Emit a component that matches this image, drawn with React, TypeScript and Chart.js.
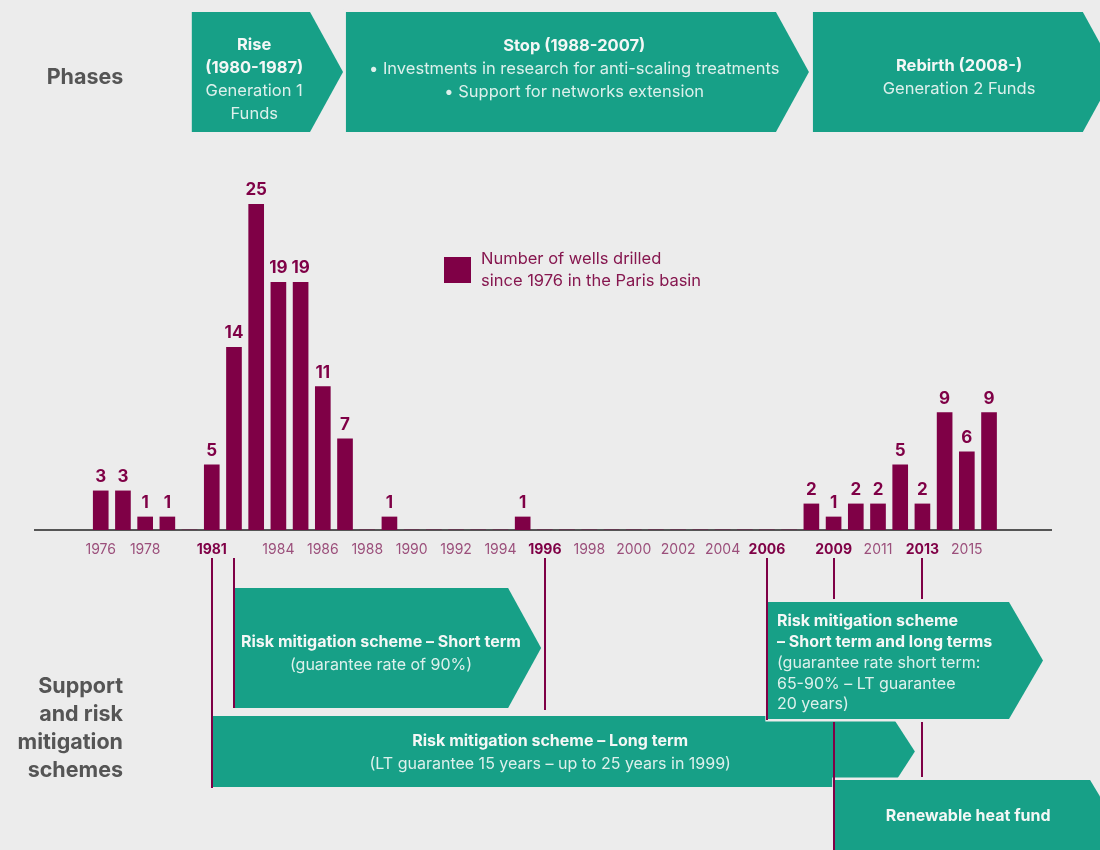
import React, { useEffect, useRef } from 'react';
import { Chart, registerables } from 'chart.js';
Chart.register(...registerables);

// ---- data ----
const years = [
  1976, 1977, 1978, 1979, 1980, 1981, 1982, 1983, 1984, 1985, 1986, 1987,
  1988, 1989, 1990, 1991, 1992, 1993, 1994, 1995, 1996, 1997, 1998, 1999,
  2000, 2001, 2002, 2003, 2004, 2005, 2006, 2007,
  2008, 2009, 2010, 2011, 2012, 2013, 2014, 2015, 2016,
];
const wells = [
  3, 3, 1, 1, 0, 5, 14, 25, 19, 19, 11, 7,
  0, 1, 0, 0, 0, 0, 0, 1, 0, 0, 0, 0,
  0, 0, 0, 0, 0, 0, 0, 0,
  2, 1, 2, 2, 5, 2, 9, 6, 9,
];
const tickYears = [1976, 1978, 1981, 1984, 1986, 1988, 1990, 1992, 1994, 1996, 1998, 2000, 2002, 2004, 2006, 2009, 2011, 2013, 2015];
const boldYears = [1981, 1996, 2006, 2009, 2013];
const seriesLabel = ['Number of wells drilled', 'since 1976 in the Paris basin'];

// phases (top arrows)
const phaseStart = [1980.1, 1987.04, 2008.07];
const phaseTip = [1986.91, 2007.89, 2021.71];
const phaseTextAt = [1982.91, 1997.32, 2014.65];
const phaseLines: [string, boolean][][] = [
  [['Rise', true], ['(1980-1987)', true], ['Generation 1', false], ['Funds', false]],
  [['Stop (1988-2007)', true], ['• Investments in research for anti-scaling treatments', false], ['• Support for networks extension', false]],
  [['Rebirth (2008-)', true], ['Generation 2 Funds', false]],
];

// support schemes (bottom arrows)
const schemeStart = [1981, 1982, 2006.04, 2009.05];
const schemeTip = [2012.66, 1995.83, 2018.43, 2021.9];
const schemeTextAt = [1996.24, 1988.62, 2006.45, 2015.06];
const schemeLines: [string, boolean][][] = [
  [['Risk mitigation scheme – Long term', true], ['(LT guarantee 15 years – up to 25 years in 1999)', false]],
  [['Risk mitigation scheme – Short term', true], ['(guarantee rate of 90%)', false]],
  [['Risk mitigation scheme', true], ['– Short term and long terms', true], ['(guarantee rate short term:', false], ['65-90% – LT guarantee', false], ['20 years)', false]],
  [['Renewable heat fund', true]],
];
const markerYears = [1981, 1982, 1996, 2006, 2009, 2013];
const sideLabel = ['Support', 'and risk', 'mitigation', 'schemes'];

// ---- styles / layout ----
const BG = '#ececec';
const TEAL = '#17a087';
const PURPLE = '#7f0046';
const TICK_PURPLE = '#9b4f7b';
const GREY = '#555555';
const FONT = 'Inter, "Noto Sans", sans-serif';

const phaseBox = { top: 12, bottom: 132, depth: 33, lineH: 23 };
const phaseTextY = [79.5, 69, 78];
const schemeBox = [
  { top: 716, bottom: 787, depth: 23 },
  { top: 588, bottom: 708, depth: 33 },
  { top: 602, bottom: 719, depth: 34 },
  { top: 780, bottom: 880, depth: 30 },
];
const schemeTextY = [753, 654, 663, 816];
const schemeLineH = [23, 23, 20.7, 23];
const schemeAlign: CanvasTextAlign[] = ['center', 'center', 'left', 'center'];
const markerSegs: [number, number][][] = [
  [[558, 788]],
  [[558, 708]],
  [[558, 710]],
  [[558, 720]],
  [[558, 599], [722, 850]],
  [[558, 599], [722, 777]],
];

function arrow(ctx: CanvasRenderingContext2D, x0: number, tip: number, top: number, bottom: number, depth: number) {
  ctx.beginPath();
  ctx.moveTo(x0, top);
  ctx.lineTo(tip - depth, top);
  ctx.lineTo(tip, (top + bottom) / 2);
  ctx.lineTo(tip - depth, bottom);
  ctx.lineTo(x0, bottom);
  ctx.closePath();
}

function drawBox(ctx: CanvasRenderingContext2D, x0: number, tip: number, top: number, bottom: number, depth: number) {
  arrow(ctx, x0, tip, top, bottom, depth);
  ctx.lineWidth = 5;
  ctx.strokeStyle = BG;
  ctx.lineJoin = 'miter';
  ctx.stroke();
  ctx.fillStyle = TEAL;
  ctx.fill();
}

function drawLines(ctx: CanvasRenderingContext2D, lines: [string, boolean][], x: number, yCenter: number, lineH: number, align: CanvasTextAlign, size: number) {
  const n = lines.length;
  const y0 = yCenter - ((n - 1) * lineH) / 2;
  ctx.textAlign = align;
  ctx.textBaseline = 'middle';
  lines.forEach(([t, b], i) => {
    ctx.font = `${b ? 'bold ' : ''}${size}px ${FONT}`;
    ctx.fillStyle = b ? '#f4f7f6' : '#ddf0ec';
    ctx.fillText(t, x, y0 + i * lineH);
  });
}

const decor = {
  id: 'decor',
  beforeDraw(chart: any) {
    const ctx = chart.ctx;
    ctx.save();
    ctx.fillStyle = BG;
    ctx.fillRect(0, 0, chart.width, chart.height);
    ctx.restore();
  },
  afterDraw(chart: any) {
    const ctx: CanvasRenderingContext2D = chart.ctx;
    const sx = (v: number) => chart.scales.x.getPixelForValue(v);
    ctx.save();

    // bar value labels
    const meta = chart.getDatasetMeta(0);
    ctx.font = `bold 17px ${FONT}`;
    ctx.fillStyle = PURPLE;
    ctx.textAlign = 'center';
    ctx.textBaseline = 'alphabetic';
    meta.data.forEach((el: any, i: number) => {
      if (!wells[i]) return;
      ctx.fillText(String(wells[i]), el.x, el.y - 9);
    });

    // legend
    ctx.fillStyle = PURPLE;
    ctx.fillRect(444, 257, 27, 26);
    ctx.font = `16.5px ${FONT}`;
    ctx.fillStyle = '#86174f';
    ctx.textAlign = 'left';
    ctx.textBaseline = 'middle';
    ctx.fillText(seriesLabel[0], 481, 259);
    ctx.fillText(seriesLabel[1], 481, 281);

    // side labels
    ctx.fillStyle = GREY;
    ctx.font = `bold 21.5px ${FONT}`;
    ctx.textAlign = 'center';
    ctx.fillText('Phases', 85, 78);
    ctx.textAlign = 'right';
    sideLabel.forEach((t, i) => ctx.fillText(t, 123, 687 + i * 28));

    // phases
    phaseStart.forEach((s, i) => {
      drawBox(ctx, sx(s), sx(phaseTip[i]), phaseBox.top, phaseBox.bottom, phaseBox.depth);
      drawLines(ctx, phaseLines[i], sx(phaseTextAt[i]), phaseTextY[i], phaseBox.lineH, 'center', 16.5);
    });

    // schemes: long term, short term, then 2006 box and renewable fund
    [0, 1, 2, 3].forEach((i) => {
      const b = schemeBox[i];
      drawBox(ctx, sx(schemeStart[i]), sx(schemeTip[i]), b.top, b.bottom, b.depth);
      if (i === 1 || i === 3) {
        if (i === 1) {
          drawLines(ctx, schemeLines[0], sx(schemeTextAt[0]), schemeTextY[0], schemeLineH[0], schemeAlign[0], 16);
        }
      }
      if (i !== 0) drawLines(ctx, schemeLines[i], sx(schemeTextAt[i]), schemeTextY[i], schemeLineH[i], schemeAlign[i], 16);
    });

    // year markers
    ctx.strokeStyle = PURPLE;
    ctx.lineWidth = 2;
    markerYears.forEach((y, i) => {
      const x = Math.round(sx(y));
      markerSegs[i].forEach(([a, b]) => {
        ctx.beginPath();
        ctx.moveTo(x, a);
        ctx.lineTo(x, b);
        ctx.stroke();
      });
    });

    ctx.restore();
  },
};

export default function App() {
  const ref = useRef<HTMLCanvasElement | null>(null);
  useEffect(() => {
    document.body.style.margin = '0';
    document.body.style.background = BG;
    const canvas = ref.current;
    if (!canvas) return;
    const chart = new Chart(canvas, {
      type: 'bar',
      data: {
        datasets: [
          {
            label: seriesLabel.join(' '),
            data: years.map((y, i) => ({ x: y, y: wells[i] })),
            backgroundColor: PURPLE,
            barThickness: 15,
          },
        ],
      },
      options: {
        animation: false,
        responsive: false,
        maintainAspectRatio: false,
        devicePixelRatio: 1,
        layout: { padding: { top: 204, bottom: 290, left: 35, right: 49 } },
        plugins: { legend: { display: false }, tooltip: { enabled: false }, title: { display: false } },
        scales: {
          x: {
            type: 'linear',
            min: 1973.04,
            max: 2018.79,
            offset: false,
            grid: { display: false, drawTicks: false },
            border: { display: true, color: GREY, width: 2 },
            afterBuildTicks: (scale: any) => {
              scale.ticks = tickYears.map((v) => ({ value: v }));
            },
            afterFit: (scale: any) => {
              scale.height = 30;
            },
            ticks: {
              autoSkip: false,
              maxRotation: 0,
              padding: 11,
              callback: (v: any) => String(v),
              font: (c: any) => ({ family: FONT, size: 14, weight: c.tick && boldYears.includes(c.tick.value) ? 'bold' : 'normal' }),
              color: (c: any) => (c.tick && boldYears.includes(c.tick.value) ? PURPLE : TICK_PURPLE),
            },
          },
          y: { display: false, min: 0, max: 25 },
        },
      },
      plugins: [decor],
    } as any);
    return () => chart.destroy();
  }, []);
  return <canvas ref={ref} width={1100} height={850} style={{ display: 'block', width: 1100, height: 850 }} />;
}
